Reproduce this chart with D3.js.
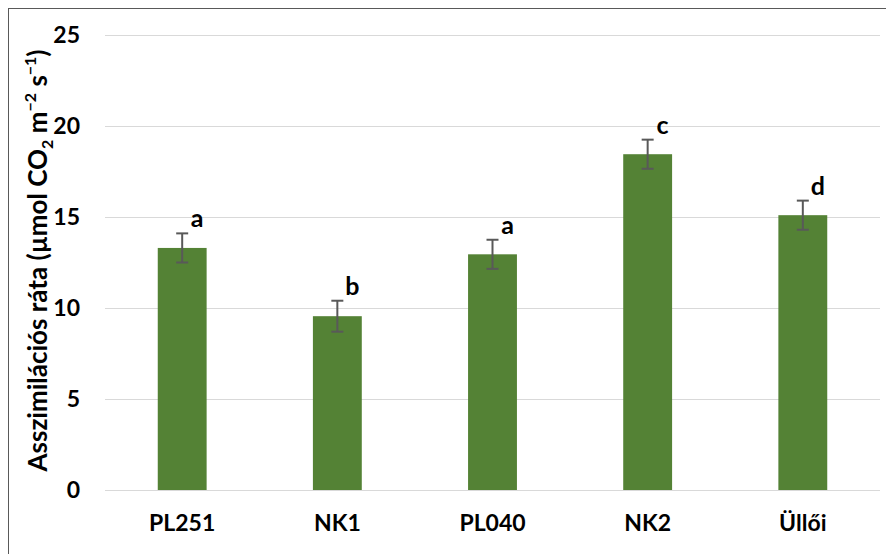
<!DOCTYPE html>
<html>
<head>
<meta charset="utf-8">
<script src="https://cdn.jsdelivr.net/npm/d3@7/dist/d3.min.js"></script>
<style>
  html, body { margin: 0; padding: 0; background: #fff; }
  svg { display: block; }
  text { font-family: Lato, "Open Sans", sans-serif; font-weight: bold; fill: #000; }
</style>
</head>
<body>
<svg id="chart" width="886" height="554"></svg>
<script>
const categories = ["PL251", "NK1", "PL040", "NK2", "Üllői"];
const values = [13.3, 9.55, 12.95, 18.45, 15.1];
const errors = [0.8, 0.85, 0.8, 0.8, 0.8];
const letters = ["a", "b", "a", "c", "d"];
const yTicks = [0, 5, 10, 15, 20, 25];

const svg = d3.select("#chart");
const W = 886, H = 554;
const margin = { left: 105, right: 6, top: 35, bottom: 64 };
const plotW = W - margin.left - margin.right;
const plotH = H - margin.top - margin.bottom;

// outer chart border
svg.append("rect").attr("x", 8.5).attr("y", 8.5).attr("width", W).attr("height", H)
  .attr("fill", "none").attr("stroke", "#595959").attr("stroke-width", 1);

const g = svg.append("g").attr("transform", `translate(${margin.left},${margin.top})`);

const x = d3.scaleBand().domain(categories).range([0, plotW]).paddingInner(0.685).paddingOuter(0.34);
const y = d3.scaleLinear().domain([0, 25]).range([plotH, 0]);

// gridlines
g.selectAll(".grid").data(yTicks).enter().append("line")
  .attr("x1", 0).attr("x2", plotW)
  .attr("y1", d => Math.round(y(d)) + 0.5).attr("y2", d => Math.round(y(d)) + 0.5)
  .attr("stroke", "#d9d9d9").attr("stroke-width", 1);

// y axis labels
const yAxis = d3.axisLeft(y).tickValues(yTicks).tickSize(0).tickPadding(25);
const ya = g.append("g").call(yAxis);
ya.select(".domain").remove();
ya.selectAll("text").style("font-size", "23px").style("font-family", "Lato, sans-serif").style("font-weight", "bold").attr("fill", "#000");

// x axis labels
const xAxis = d3.axisBottom(x).tickSize(0).tickPadding(25);
const xa = g.append("g").attr("transform", `translate(0,${plotH})`).call(xAxis);
xa.select(".domain").remove();
xa.selectAll("text").style("font-size", "23px").style("font-family", "Lato, sans-serif").style("font-weight", "bold").attr("fill", "#000");

// bars
g.selectAll(".bar").data(values).enter().append("rect")
  .attr("x", (d, i) => x(categories[i]))
  .attr("width", x.bandwidth())
  .attr("y", d => y(d))
  .attr("height", d => plotH - y(d))
  .attr("fill", "#548235");

// error bars
const cx = i => x(categories[i]) + x.bandwidth() / 2;
const eb = g.selectAll(".err").data(values).enter().append("g").attr("stroke", "#595959").attr("stroke-width", 2);
eb.append("line").attr("x1", (d, i) => cx(i)).attr("x2", (d, i) => cx(i))
  .attr("y1", (d, i) => y(d + errors[i])).attr("y2", (d, i) => y(d - errors[i]));
eb.append("line").attr("x1", (d, i) => cx(i) - 6).attr("x2", (d, i) => cx(i) + 6)
  .attr("y1", (d, i) => y(d + errors[i])).attr("y2", (d, i) => y(d + errors[i]));
eb.append("line").attr("x1", (d, i) => cx(i) - 6).attr("x2", (d, i) => cx(i) + 6)
  .attr("y1", (d, i) => y(d - errors[i])).attr("y2", (d, i) => y(d - errors[i]));

// significance letters
g.selectAll(".lbl").data(values).enter().append("text")
  .attr("x", (d, i) => cx(i) + 15)
  .attr("y", (d, i) => y(d + errors[i]) - 6)
  .attr("text-anchor", "middle")
  .style("font-size", "25px")
  .text((d, i) => letters[i]);

// y axis title
const title = svg.append("text")
  .attr("transform", `translate(47,${margin.top + plotH / 2 - 2}) rotate(-90)`)
  .attr("text-anchor", "middle")
  .style("font-size", "26px");
title.append("tspan").text("Asszimilációs ráta (µmol CO");
title.append("tspan").attr("dy", 6).style("font-size", "16px").text("2");
title.append("tspan").attr("dy", -6).text(" m");
title.append("tspan").attr("dy", -11).style("font-size", "16px").text("−2");
title.append("tspan").attr("dy", 11).text(" s");
title.append("tspan").attr("dy", -11).style("font-size", "16px").text("−1");
title.append("tspan").attr("dy", 11).text(")");
</script>
</body>
</html>
